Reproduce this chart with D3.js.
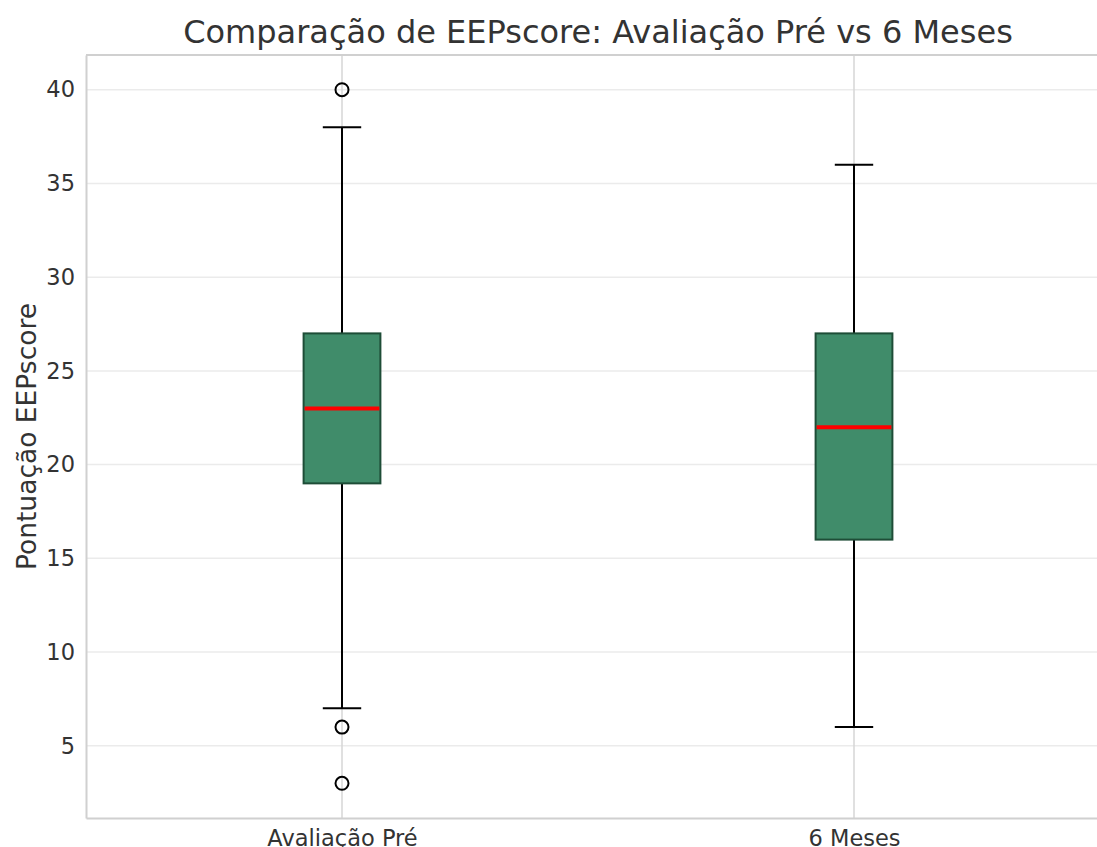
<html lang="pt"><head>
<meta charset="utf-8">
<title>Comparação de EEPscore</title>
<script src="https://cdn.jsdelivr.net/npm/d3@7"></script>
<style>
  body { margin: 0; background: #fff; }
  svg { font-family: "DejaVu Sans", sans-serif; display: block; }
</style>
</head>
<body>
<script>
// dados
var categorias = ["Avaliação Pré", "6 Meses"];
var minimos   = [7, 6];     // bigodes inferiores
var q1        = [19, 16];
var medianas  = [23, 22];
var q3        = [27, 27];
var maximos   = [38, 36];   // bigodes superiores
var outliers  = [[40, 6, 3], []];
var yTicks    = [5, 10, 15, 20, 25, 30, 35, 40];

var w = 1097, h = 847;
var mLeft = 86, mTop = 55, plotW = 1024, plotH = 763; // "top" é reservado no window

var svg = d3.select("body").append("svg")
  .attr("width", w).attr("height", h);

var x = d3.scaleLinear().domain([0.5, 2.5]).range([mLeft, mLeft + plotW]);
var y = d3.scaleLinear().domain([1.15, 41.85]).range([mTop + plotH, mTop]);

// grade
svg.append("g").selectAll("line").data(yTicks).enter().append("line")
  .attr("x1", mLeft).attr("x2", mLeft + plotW)
  .attr("y1", function(d) { return y(d); }).attr("y2", function(d) { return y(d); })
  .attr("stroke", "#ebebeb").attr("stroke-width", 1.5);
svg.append("g").selectAll("line").data(categorias).enter().append("line")
  .attr("x1", function(d, i) { return x(i + 1); }).attr("x2", function(d, i) { return x(i + 1); })
  .attr("y1", mTop).attr("y2", mTop + plotH)
  .attr("stroke", "#d6d6d6").attr("stroke-width", 1.5);

// eixos
var yAxis = svg.append("g").attr("transform", "translate(" + mLeft + ",0)")
  .call(d3.axisLeft(y).tickValues(yTicks).tickSize(0).tickPadding(11));
var xAxis = svg.append("g").attr("transform", "translate(0," + (mTop + plotH) + ")")
  .call(d3.axisBottom(x).tickValues([1, 2]).tickSize(0).tickPadding(12)
    .tickFormat(function(d) { return categorias[d - 1]; }));
[yAxis, xAxis].forEach(function(a) {
  a.select(".domain").attr("stroke", "#d0d0d0").attr("stroke-width", 2);
  a.selectAll("text").style("font-size", "22.5px").attr("fill", "#333")
    .style("font-family", "DejaVu Sans, sans-serif");
});
// borda superior
svg.append("line").attr("x1", mLeft).attr("x2", mLeft + plotW)
  .attr("y1", mTop).attr("y2", mTop).attr("stroke", "#d0d0d0").attr("stroke-width", 2);

var boxW = 0.15, capW = 0.075;
var g = svg.append("g").selectAll("g").data(categorias).enter().append("g");

// bigodes
g.append("line")
  .attr("x1", function(d, i) { return x(i + 1); }).attr("x2", function(d, i) { return x(i + 1); })
  .attr("y1", function(d, i) { return y(minimos[i]); }).attr("y2", function(d, i) { return y(q1[i]); })
  .attr("stroke", "#000").attr("stroke-width", 2);
g.append("line")
  .attr("x1", function(d, i) { return x(i + 1); }).attr("x2", function(d, i) { return x(i + 1); })
  .attr("y1", function(d, i) { return y(q3[i]); }).attr("y2", function(d, i) { return y(maximos[i]); })
  .attr("stroke", "#000").attr("stroke-width", 2);
// tampas
[minimos, maximos].forEach(function(arr) {
  g.append("line")
    .attr("x1", function(d, i) { return x(i + 1 - capW / 2); }).attr("x2", function(d, i) { return x(i + 1 + capW / 2); })
    .attr("y1", function(d, i) { return y(arr[i]); }).attr("y2", function(d, i) { return y(arr[i]); })
    .attr("stroke", "#000").attr("stroke-width", 2);
});

// caixas
g.append("rect")
  .attr("x", function(d, i) { return x(i + 1 - boxW / 2); })
  .attr("width", x(1 + boxW) - x(1))
  .attr("y", function(d, i) { return y(q3[i]); })
  .attr("height", function(d, i) { return y(q1[i]) - y(q3[i]); })
  .attr("fill", "#408c6a").attr("stroke", "#1e4d37").attr("stroke-width", 2);

// medianas
g.append("line")
  .attr("x1", function(d, i) { return x(i + 1 - boxW / 2) + 1; }).attr("x2", function(d, i) { return x(i + 1 + boxW / 2) - 1; })
  .attr("y1", function(d, i) { return y(medianas[i]); }).attr("y2", function(d, i) { return y(medianas[i]); })
  .attr("stroke", "#ff0000").attr("stroke-width", 4);

// outliers
g.each(function(d, i) {
  d3.select(this).selectAll("circle").data(outliers[i]).enter().append("circle")
    .attr("cx", x(i + 1)).attr("cy", function(v) { return y(v); })
    .attr("r", 6.5).attr("fill", "none").attr("stroke", "#000").attr("stroke-width", 2);
});

// título e rótulo
svg.append("text").attr("x", x(1.5)).attr("y", 43)
  .attr("text-anchor", "middle").style("font-size", "32px").attr("fill", "#333")
  .text("Comparação de EEPscore: Avaliação Pré vs 6 Meses");
svg.append("text").attr("transform", "translate(36," + (mTop + plotH / 2) + ") rotate(-90)")
  .attr("text-anchor", "middle").style("font-size", "26.5px").attr("fill", "#333")
  .text("Pontuação EEPscore");
</script>
</body></html>
